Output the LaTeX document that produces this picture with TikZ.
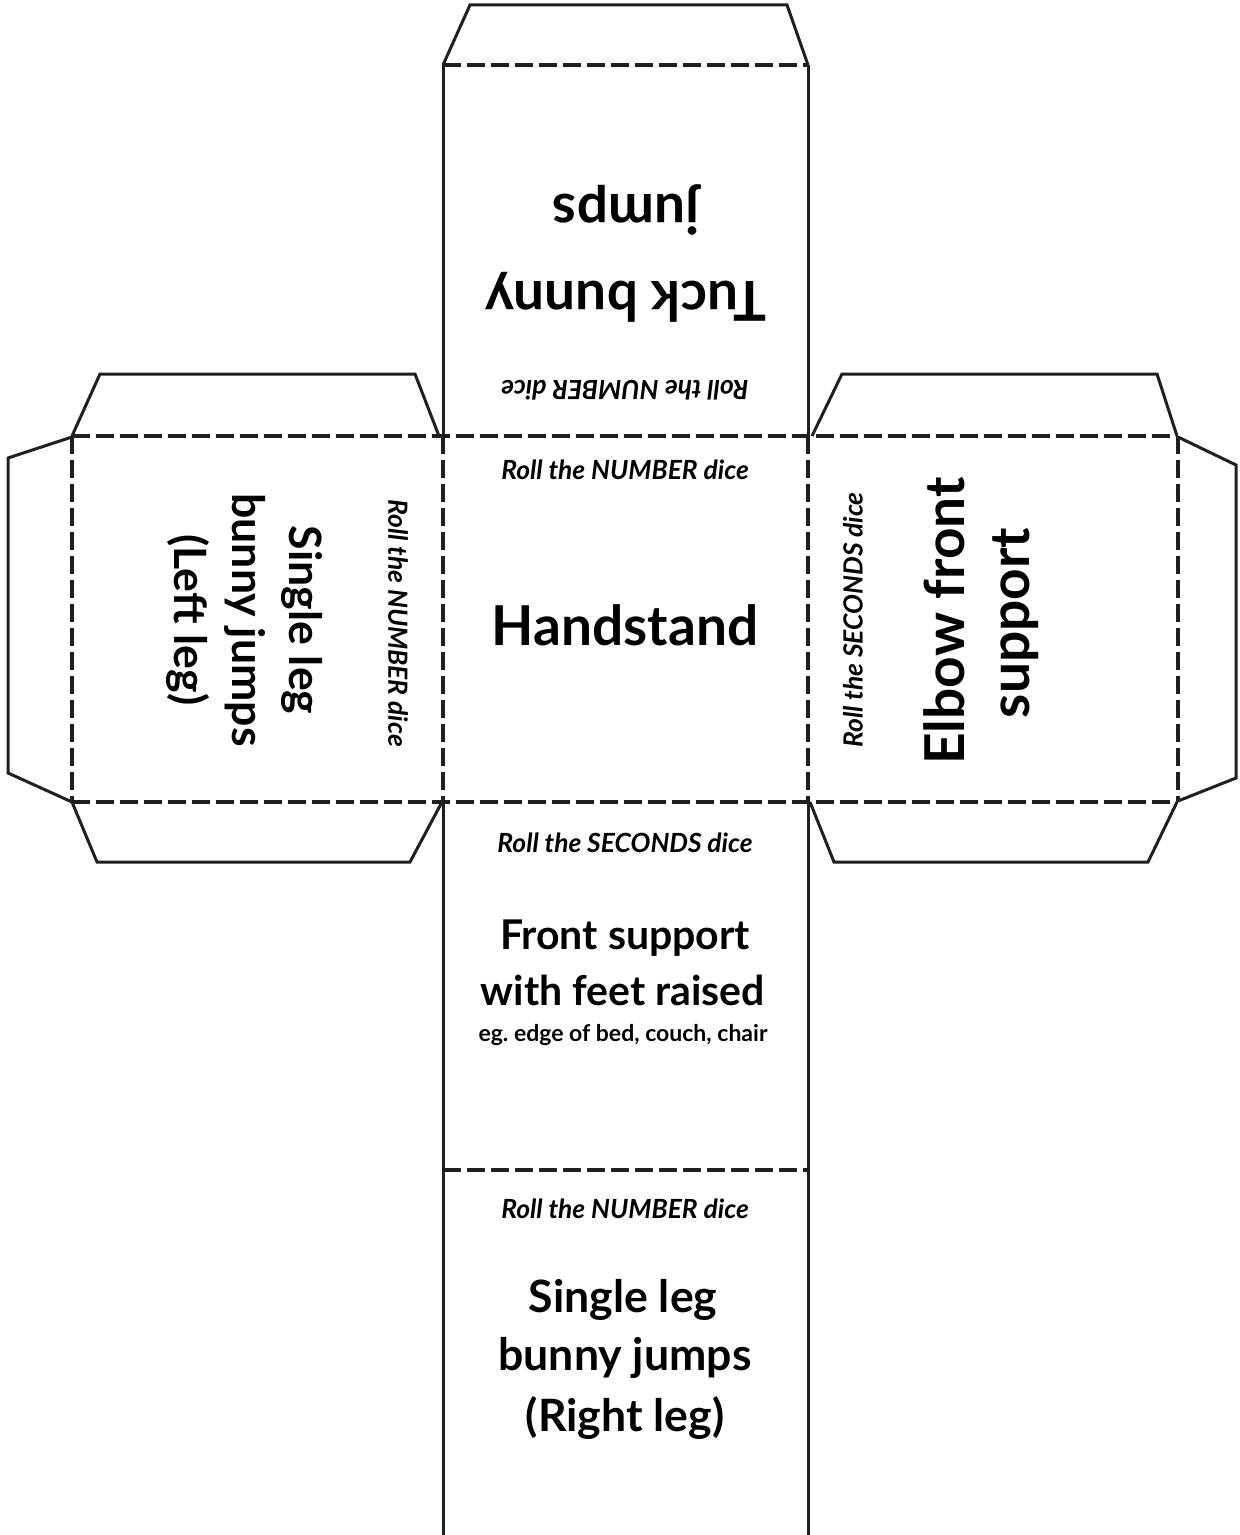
\documentclass[tikz,border=0pt]{standalone}
\usepackage{fontspec}
\setmainfont{Lato}
\frenchspacing
\begin{document}
\begin{tikzpicture}[x=0.5pt,y=-0.5pt,
  cut/.style={line width=1.5pt,draw=black!88,line join=miter},
  fold/.style={line width=1.6pt,draw=black!88,dash pattern=on 9pt off 3pt},
  roll/.style={font=\fontsize{13.2}{15}\selectfont\bfseries\itshape,inner sep=0pt},
  big/.style={font=\fontsize{27.5}{32}\selectfont\bfseries,inner sep=0pt},
  mid/.style={font=\fontsize{22.3}{26}\selectfont\bfseries,inner sep=0pt},
  front/.style={font=\fontsize{20.5}{24}\selectfont\bfseries,inner sep=0pt},
  small/.style={font=\fontsize{11.5}{13}\selectfont\bfseries,inner sep=0pt}]
\useasboundingbox (0,0) rectangle (1240,1535);
\fill[white] (0,0) rectangle (1240,1535);

% cut lines: glue tabs and the long sides of the strip
\draw[cut] (443,65) -- (470,5) -- (787,5) -- (808,65);
\draw[cut] (443,65) -- (443,436);
\draw[cut] (808,65) -- (808,436);
\draw[cut] (443,802) -- (443,1535);
\draw[cut] (808,802) -- (808,1535);
\draw[cut] (72,436) -- (100,374) -- (415,374) -- (439,436);
\draw[cut] (72,437) -- (8,458) -- (8,773) -- (72,802);
\draw[cut] (72,802) -- (97,862) -- (410,862) -- (442,802);
\draw[cut] (812,436) -- (842,374) -- (1157,374) -- (1177,436);
\draw[cut] (1178,437) -- (1236,465) -- (1236,778) -- (1178,801);
\draw[cut] (810,802) -- (834,862) -- (1148,862) -- (1177,802);

% fold lines
\draw[fold] (443,65) -- (808,65);
\draw[fold] (72,436) -- (1178,436);
\draw[fold] (72,802) -- (1178,802);
\draw[fold] (443,1170) -- (808,1170);
\draw[fold] (72,436) -- (72,802);
\draw[fold] (443,436) -- (443,802);
\draw[fold] (808,436) -- (808,802);
\draw[fold] (1178,436) -- (1178,802);

% top face (upside down)
\node[big,rotate=180,text depth=0pt] (tuck1) at (626,302) {Tuck bunny};
\node[big,rotate=180] (tuck2) at (626,210) {jumps};
\node[roll,rotate=180] (rolltop) at (625,390) {Roll the NUMBER dice};

% centre face
\node[roll] (rollmid) at (625,470) {Roll the NUMBER dice};
\node[big] (hand) at (625,625) {Handstand};

% left face
\node[mid,rotate=-90] (left1) at (302,620) {Single leg};
\node[mid,rotate=-90] (left2) at (245,620) {bunny jumps};
\node[mid,rotate=-90] (left3) at (188,620) {(Left leg)};
\node[roll,rotate=-90] (rollleft) at (398,623) {Roll the NUMBER dice};

% right face
\node[big,rotate=90] (elbow1) at (944,621) {Elbow front};
\node[big,rotate=90] (elbow2) at (1016,623) {support};
\node[roll,rotate=90] (rollright) at (853,620) {Roll the SECONDS dice};

% lower face
\node[roll] (rolllow) at (625,843) {Roll the SECONDS dice};
\node[front] (front1) at (625,938) {Front support};
\node[front] (front2) at (623,990) {with feet raised};
\node[small] (front3) at (623,1035) {eg. edge of bed, couch, chair};

% bottom face
\node[roll] (rollbot) at (625,1209) {Roll the NUMBER dice};
\node[mid] (right1) at (623,1300) {Single leg};
\node[mid] (right2) at (625,1358) {bunny jumps};
\node[mid] (right3) at (625,1418) {(Right leg)};
\end{tikzpicture}
\end{document}
